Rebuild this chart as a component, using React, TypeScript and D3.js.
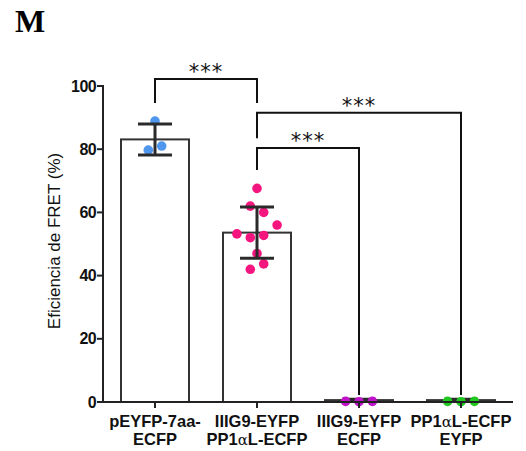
import React from "react";
import * as d3 from "d3";

const categoriesLine1 = ["pEYFP-7aa-", "IIIG9-EYFP", "IIIG9-EYFP", "PP1αL-ECFP"];
const categoriesLine2 = ["ECFP", "PP1αL-ECFP", "ECFP", "EYFP"];
const means = [83.1, 53.6, 0.6, 0.6];
const sds = [4.9, 8.1, 0.3, 0.3];
const dotColors = ["#4f96ee", "#f5157f", "#c012c8", "#1fc81f"];
const points0 = [88.9, 79.7, 81.0];
const jitter0 = [0, -1, 1];
const points1 = [67.6, 62, 60, 53.2, 56, 52, 52.7, 47, 42, 43.7];
const jitter1 = [0, -1, 1, -3, 3, -1, 1, 0, -1, 1];
const points2 = [0.2, 0.1, 0.2];
const jitter2 = [-2, 0, 2];
const points3 = [0.2, 0.1, 0.2];
const jitter3 = [-2, 0, 2];
const yTicks = [0, 20, 40, 60, 80, 100];
const bracketFrom = [0, 1, 1];
const bracketTo = [1, 3, 2];
const bracketTop = [102.2, 91.5, 80.4];
const bracketLeftEnd = [94.6, 83.5, 73.4];
const bracketRightEnd = [94.6, 2.2, 2.2];
const bracketLabel = ["***", "***", "***"];

const allPoints = [points0, points1, points2, points3];
const allJitter = [jitter0, jitter1, jitter2, jitter3];

function Label({ text, x, y }: { text: string; x: number; y: number }) {
  const parts = text.split("α");
  return (
    <text x={x} y={y} textAnchor="middle" fontFamily="'Liberation Sans', Arial, sans-serif" fontWeight="bold" fontSize={16.5} fill="#111">
      {parts.length === 1
        ? text
        : [
            <tspan key="a">{parts[0]}</tspan>,
            <tspan key="b" fontFamily="'DejaVu Serif', serif" fontWeight="normal" fontSize={15}>α</tspan>,
            <tspan key="c">{parts[1]}</tspan>,
          ]}
    </text>
  );
}

export default function App() {
  const W = 526, H = 451;
  const x = d3.scaleBand<number>().domain(d3.range(4)).range([104, 512]).paddingInner(1 / 3).paddingOuter(1 / 6);
  const y = d3.scaleLinear().domain([0, 100]).range([402, 86]);
  const bw = x.bandwidth();
  const cx = (i: number) => (x(i) as number) + bw / 2;
  const dotStep = 6.7;
  const ink = "#222";

  const dots = (i: number) =>
    allPoints[i].map((v, j) => (
      <circle key={"d" + i + "-" + j} cx={cx(i) + allJitter[i][j] * dotStep} cy={y(v)} r={4.8} fill={dotColors[i]} />
    ));
  const errorBar = (i: number) => {
    const m = means[i];
    return (
      <g key={"eb" + i} stroke="#2a2a2a" strokeWidth={3}>
        <line x1={cx(i)} x2={cx(i)} y1={y(m + sds[i])} y2={y(m - sds[i])} />
        <line x1={cx(i) - bw / 4} x2={cx(i) + bw / 4} y1={y(m + sds[i])} y2={y(m + sds[i])} />
        <line x1={cx(i) - bw / 4} x2={cx(i) + bw / 4} y1={y(m - sds[i])} y2={y(m - sds[i])} />
      </g>
    );
  };

  return (
    <svg width={W} height={H} style={{ position: "fixed", left: 0, top: 0, background: "#fff" }}>
      <text x={15} y={32} fontFamily="'Liberation Serif', 'Times New Roman', serif" fontWeight="bold" fontSize={32} fill="#000">M</text>

      {/* bars */}
      {means.map((m, i) => (
        <rect key={"bar" + i} x={x(i)} y={y(m)} width={bw} height={y(0) - y(m)} fill="none" stroke="#333" strokeWidth={2} />
      ))}

      {/* dots and error bars: large bars get error bars on top, near-zero bars get dots on top */}
      {means.map((m, i) => (
        <g key={"grp" + i}>
          {m > 5 ? [dots(i), errorBar(i)] : [errorBar(i), dots(i)]}
        </g>
      ))}

      {/* axes */}
      <line x1={103} x2={103} y1={y(100) - 1} y2={y(0) + 1} stroke={ink} strokeWidth={2} />
      <line x1={103} x2={513} y1={y(0)} y2={y(0)} stroke={ink} strokeWidth={2} />
      {yTicks.map((t) => (
        <g key={"yt" + t}>
          <line x1={97} x2={103} y1={y(t)} y2={y(t)} stroke={ink} strokeWidth={2} />
          <text x={96} y={y(t) + 5.5} textAnchor="end" fontFamily="'Liberation Sans', Arial, sans-serif" fontWeight="bold" fontSize={16} letterSpacing={-0.6} fill="#111">{t}</text>
        </g>
      ))}
      {means.map((_, i) => (
        <line key={"xt" + i} x1={cx(i)} x2={cx(i)} y1={y(0)} y2={y(0) + 6} stroke={ink} strokeWidth={2} />
      ))}
      {categoriesLine1.map((c, i) => (
        <g key={"cl" + i}>
          <Label text={c} x={cx(i)} y={427} />
          <Label text={categoriesLine2[i]} x={cx(i)} y={445} />
        </g>
      ))}

      <text transform={`translate(60,241) rotate(-90)`} textAnchor="middle" fontFamily="'Liberation Sans', Arial, sans-serif" fontSize={17} fill="#111">Eficiencia de FRET (%)</text>

      {/* significance brackets */}
      {bracketFrom.map((f, k) => {
        const x1 = cx(f), x2 = cx(bracketTo[k]);
        const yt = y(bracketTop[k]);
        return (
          <g key={"br" + k}>
            <path d={`M${x1},${y(bracketLeftEnd[k])}V${yt}H${x2}V${y(bracketRightEnd[k])}`} fill="none" stroke="#111" strokeWidth={2} />
            <text x={(x1 + x2) / 2} y={yt} textAnchor="middle" fontFamily="'DejaVu Sans', sans-serif" fontSize={21} letterSpacing={1} fill="#111">{bracketLabel[k]}</text>
          </g>
        );
      })}
    </svg>
  );
}
